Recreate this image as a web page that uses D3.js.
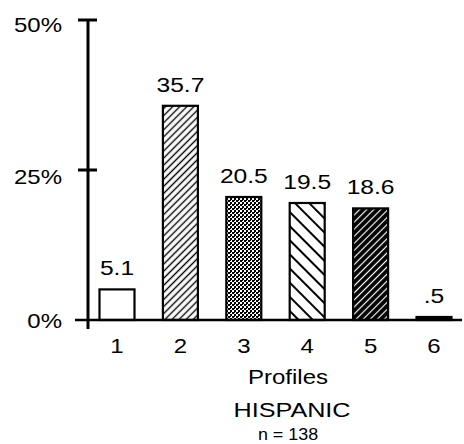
<!DOCTYPE html>
<html><head><meta charset="utf-8">
<script src="https://cdn.jsdelivr.net/npm/d3@7"></script>
<style>body{margin:0;background:#fff}svg{display:block}text{font-family:"Liberation Sans",Arial,sans-serif;fill:#000}</style>
</head><body>
<script>
const categories = ["1","2","3","4","5","6"];
const values = [5.1, 35.7, 20.5, 19.5, 18.6, 0.5];
const valueLabels = ["5.1","35.7","20.5","19.5","18.6",".5"];
const yTicks = [0, 25, 50];
const yTickLabels = ["0%","25%","50%"];
const xTitle = "Profiles";
const groupTitle = "HISPANIC";
const sampleNote = "n = 138";

const W = 464, H = 444;
const svg = d3.select("body").append("svg").attr("width", W).attr("height", H);
const defs = svg.append("defs");

function linePattern(id, bg, fg, gap, sw, angle) {
  const p = defs.append("pattern").attr("id", id).attr("patternUnits", "userSpaceOnUse")
    .attr("width", gap).attr("height", gap).attr("patternTransform", `rotate(${angle})`);
  p.append("rect").attr("width", gap).attr("height", gap).attr("fill", bg);
  p.append("line").attr("x1", gap/2).attr("x2", gap/2).attr("y1", 0).attr("y2", gap)
    .attr("stroke", fg).attr("stroke-width", sw);
}
linePattern("p2", "#fff", "#000", 5, 1.4, 45);
linePattern("p4", "#fff", "#000", 10, 2, -45);
linePattern("p5", "#000", "#fff", 5, 1.2, 45);
{
  const p = defs.append("pattern").attr("id", "p3").attr("patternUnits", "userSpaceOnUse")
    .attr("width", 4).attr("height", 4);
  p.append("rect").attr("width", 4).attr("height", 4).attr("fill", "#fff");
  p.append("rect").attr("width", 2).attr("height", 2).attr("fill", "#000");
  p.append("rect").attr("x", 2).attr("y", 2).attr("width", 2).attr("height", 2).attr("fill", "#000");
  p.append("rect").attr("x", 2).attr("y", 0).attr("width", 1).attr("height", 1).attr("fill", "#000");
}
{
  const p = defs.append("pattern").attr("id", "p6").attr("patternUnits", "userSpaceOnUse")
    .attr("width", 5).attr("height", 4);
  p.append("rect").attr("width", 5).attr("height", 4).attr("fill", "#000");
  p.append("rect").attr("x", 1).attr("y", 1).attr("width", 3).attr("height", 1).attr("fill", "#fff");
}
const fills = ["#fff", "url(#p2)", "url(#p3)", "url(#p4)", "url(#p5)", "url(#p6)"];

const x = d3.scalePoint().domain(categories).range([117, 434]);
const y = d3.scaleLinear().domain([0, 50]).range([320, 20]);
const barW = 35;
const axisX = 88;

function stext(str, cx, by, size, sx) {
  return svg.append("text").attr("text-anchor", "middle")
    .attr("transform", `translate(${cx},${by}) scale(${sx},1)`)
    .style("font-size", size + "px").text(str);
}

svg.selectAll("rect.bar").data(values).enter().append("rect").attr("class", "bar")
  .attr("x", (d, i) => x(categories[i]) - barW/2)
  .attr("y", d => y(d))
  .attr("width", barW)
  .attr("height", d => y(0) - y(d))
  .attr("fill", (d, i) => fills[i])
  .attr("stroke", "#000").attr("stroke-width", 2.2);

values.forEach((v, i) => stext(valueLabels[i], x(categories[i]), y(v) - 14, 20.5, 1.2));

svg.append("line").attr("x1", axisX).attr("x2", axisX).attr("y1", y(50)).attr("y2", y(0) + 9)
  .attr("stroke", "#000").attr("stroke-width", 3);
svg.append("line").attr("x1", 75).attr("x2", 462).attr("y1", y(0)).attr("y2", y(0))
  .attr("stroke", "#000").attr("stroke-width", 2.6);
const labelDy = [8, 14, 12];
yTicks.forEach((t, i) => {
  if (t > 0) svg.append("line").attr("x1", axisX - 10).attr("x2", axisX + 9)
    .attr("y1", y(t)).attr("y2", y(t)).attr("stroke", "#000").attr("stroke-width", 3);
  svg.append("text").attr("text-anchor", "end")
    .attr("transform", `translate(${62},${y(t) + labelDy[i]}) scale(1.2,1)`)
    .style("font-size", "20px").text(yTickLabels[i]);
});

categories.forEach(c => stext(c, x(c), 353, 20, 1.2));

stext(xTitle, 288, 384, 20, 1.2);
stext(groupTitle, 292, 417, 21, 1.2);
stext(sampleNote, 288, 440, 16, 1.12);
</script>
</body></html>
